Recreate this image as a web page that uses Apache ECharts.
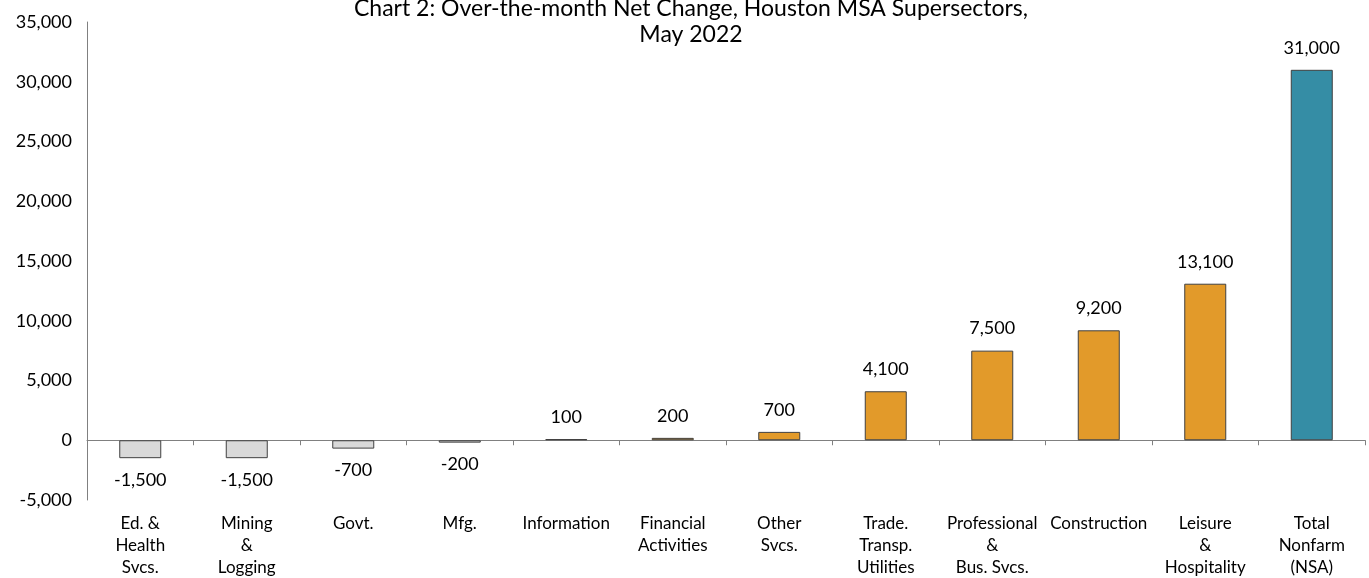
<!DOCTYPE html>
<html><head><meta charset="utf-8">
<script src="https://cdn.jsdelivr.net/npm/echarts@6/dist/echarts.min.js"></script>
<style>html,body{margin:0;padding:0;background:#fff}#c{width:1369px;height:578px}</style>
</head><body><div id="c"></div>
<script>
const categories = ["Ed. &\nHealth\nSvcs.", "Mining\n&\nLogging", "Govt.", "Mfg.", "Information", "Financial\nActivities", "Other\nSvcs.", "Trade.\nTransp.\nUtilities", "Professional\n&\nBus. Svcs.", "Construction", "Leisure\n&\nHospitality", "Total\nNonfarm\n(NSA)"];
const values = [-1500, -1500, -700, -200, 100, 200, 700, 4100, 7500, 9200, 13100, 31000];
const yTicks = {min: -5000, max: 35000, interval: 5000};
const colorNeg = '#d9d9d9', colorPos = '#e29a2a', colorTotal = '#358da5';
const font = 'Lato, "Noto Sans", sans-serif';
const chart = echarts.init(document.getElementById('c'));
chart.setOption({
  animation: false,
  title: {text: 'Chart 2: Over-the-month Net Change, Houston MSA Supersectors,\nMay 2022', left: 686, textAlign: 'center', top: -9,
    textStyle: {fontFamily: font, fontSize: 23, fontWeight: 'normal', color: '#000', lineHeight: 26}},
  grid: {left: 87, right: 4, top: 22, bottom: 78, outerBoundsMode: 'none', containLabel: false},
  xAxis: {type: 'category', data: categories,
    axisLine: {onZero: true, lineStyle: {color: '#808080', width: 1}},
    axisTick: {show: true, alignWithLabel: false, length: 5, lineStyle: {color: '#808080'}},
    axisLabel: {margin: 13, interval: 0, fontFamily: font, fontSize: 17, color: '#000', lineHeight: 22}},
  yAxis: {type: 'value', min: yTicks.min, max: yTicks.max, interval: yTicks.interval,
    axisLine: {show: true, lineStyle: {color: '#808080'}}, axisTick: {show: false}, splitLine: {show: false},
    axisLabel: {margin: 15, fontFamily: font, fontSize: 18, color: '#000',
      formatter: v => v.toLocaleString('en-US')}},
  series: [{type: 'bar', barWidth: 42,
    data: values.map((v, i) => ({value: v,
      itemStyle: {color: i === values.length - 1 ? colorTotal : (v < 0 ? colorNeg : colorPos), borderColor: '#404040', borderWidth: 1},
      label: {position: v < 0 ? 'bottom' : 'top'}})),
    label: {show: true, distance: 13, fontFamily: font, fontSize: 18, color: '#000',
      formatter: p => p.value.toLocaleString('en-US')}}]
});
</script></body></html>
